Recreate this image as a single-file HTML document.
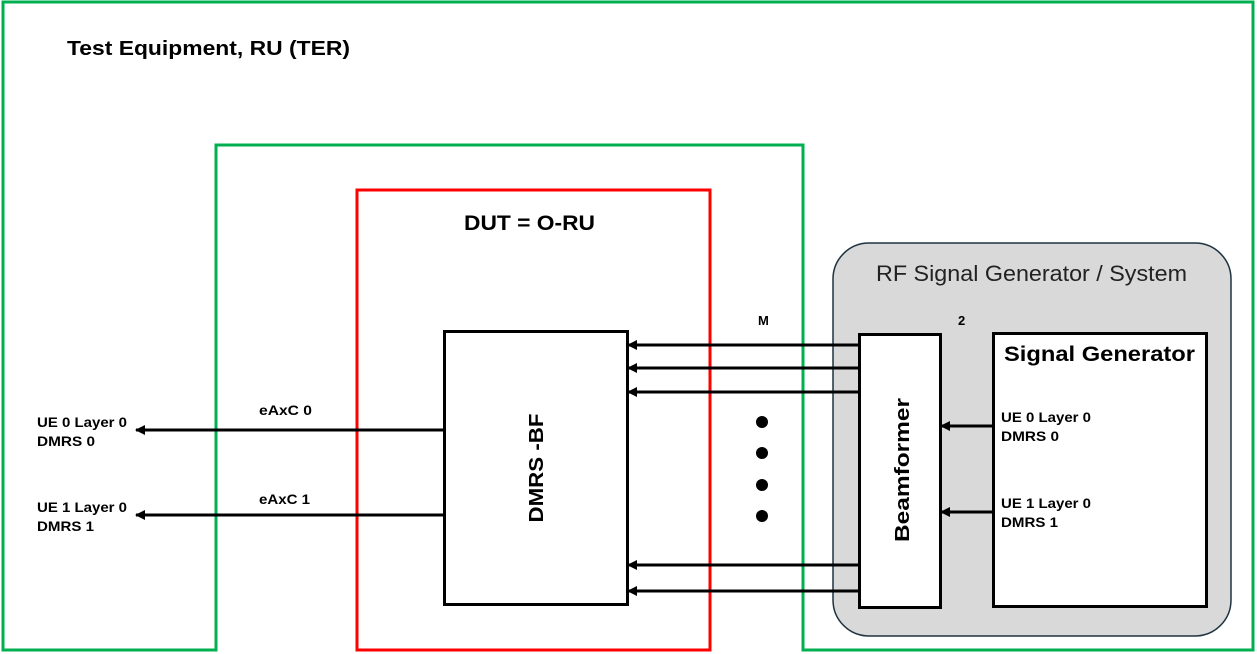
<!DOCTYPE html>
<html><head><meta charset="utf-8"><style>
html,body{margin:0;padding:0;background:#fff}
svg{display:block}
text{font-family:"Liberation Sans",sans-serif}
</style></head><body>
<svg width="1257" height="654" viewBox="0 0 1257 654" xmlns="http://www.w3.org/2000/svg">
<defs>
<marker id="a" markerWidth="10" markerHeight="10" refX="9" refY="5" orient="auto" markerUnits="userSpaceOnUse">
<path d="M0,0 L10,5 L0,10 z" fill="#000"/></marker>
</defs>
<rect x="833" y="243" width="398" height="393" rx="36" ry="36" fill="#d9d9d9" stroke="#1f3340" stroke-width="1.5"/>
<path d="M3,650 L3,2 L1253,2 L1253,650 L803,650 L803,145 L216,145 L216,650 Z" fill="none" stroke="#00b050" stroke-width="3"/>
<rect x="357" y="190" width="353" height="460" fill="none" stroke="#ff0000" stroke-width="3"/>
<rect x="444.5" y="331.5" width="183" height="273" fill="#fff" stroke="#000" stroke-width="3"/>
<rect x="859.5" y="334.5" width="81" height="273" fill="#fff" stroke="#000" stroke-width="3"/>
<rect x="993.5" y="333.5" width="213" height="273" fill="#fff" stroke="#000" stroke-width="3"/>
<g stroke="#000" stroke-width="3" marker-end="url(#a)">
<line x1="859" y1="345" x2="628" y2="345"/>
<line x1="859" y1="368" x2="628" y2="368"/>
<line x1="859" y1="392" x2="628" y2="392"/>
<line x1="859" y1="565" x2="628" y2="565"/>
<line x1="859" y1="591" x2="628" y2="591"/>
<line x1="993" y1="426" x2="941" y2="426"/>
<line x1="993" y1="512" x2="941" y2="512"/>
<line x1="444" y1="430" x2="136" y2="430"/>
<line x1="444" y1="515" x2="136" y2="515"/>
</g>
<g fill="#000">
<circle cx="762" cy="422" r="6"/><circle cx="762" cy="453" r="6"/>
<circle cx="762" cy="485" r="6"/><circle cx="762" cy="516" r="6"/>
</g>
<g font-weight="bold" fill="#000">
<text x="67" y="55" font-size="20" textLength="283" lengthAdjust="spacingAndGlyphs">Test Equipment, RU (TER)</text>
<text x="464" y="230" font-size="21" textLength="131" lengthAdjust="spacingAndGlyphs">DUT = O-RU</text>
<text x="1004" y="361" font-size="21" textLength="191" lengthAdjust="spacingAndGlyphs">Signal Generator</text>
<text x="758" y="325" font-size="13">M</text>
<text x="958" y="325" font-size="13">2</text>
<text x="259" y="415" font-size="14" textLength="53" lengthAdjust="spacingAndGlyphs">eAxC 0</text>
<text x="259" y="504" font-size="14" textLength="51" lengthAdjust="spacingAndGlyphs">eAxC 1</text>
<text x="37" y="427" font-size="14" textLength="90" lengthAdjust="spacingAndGlyphs">UE 0 Layer 0</text>
<text x="37" y="446" font-size="14" textLength="58" lengthAdjust="spacingAndGlyphs">DMRS 0</text>
<text x="37" y="512" font-size="14" textLength="90" lengthAdjust="spacingAndGlyphs">UE 1 Layer 0</text>
<text x="37" y="531" font-size="14" textLength="57" lengthAdjust="spacingAndGlyphs">DMRS 1</text>
<text x="1001" y="422" font-size="14" textLength="90" lengthAdjust="spacingAndGlyphs">UE 0 Layer 0</text>
<text x="1001" y="441" font-size="14" textLength="58" lengthAdjust="spacingAndGlyphs">DMRS 0</text>
<text x="1001" y="508" font-size="14" textLength="90" lengthAdjust="spacingAndGlyphs">UE 1 Layer 0</text>
<text x="1001" y="527" font-size="14" textLength="57" lengthAdjust="spacingAndGlyphs">DMRS 1</text>
<text transform="translate(543,468) rotate(-90)" text-anchor="middle" font-size="20" textLength="109" lengthAdjust="spacingAndGlyphs">DMRS -BF</text>
<text transform="translate(909,470) rotate(-90)" text-anchor="middle" font-size="20" textLength="144" lengthAdjust="spacingAndGlyphs">Beamformer</text>
</g>
<text x="876" y="281" font-size="22" fill="#222" textLength="311" lengthAdjust="spacingAndGlyphs">RF Signal Generator / System</text>
</svg>
</body></html>
